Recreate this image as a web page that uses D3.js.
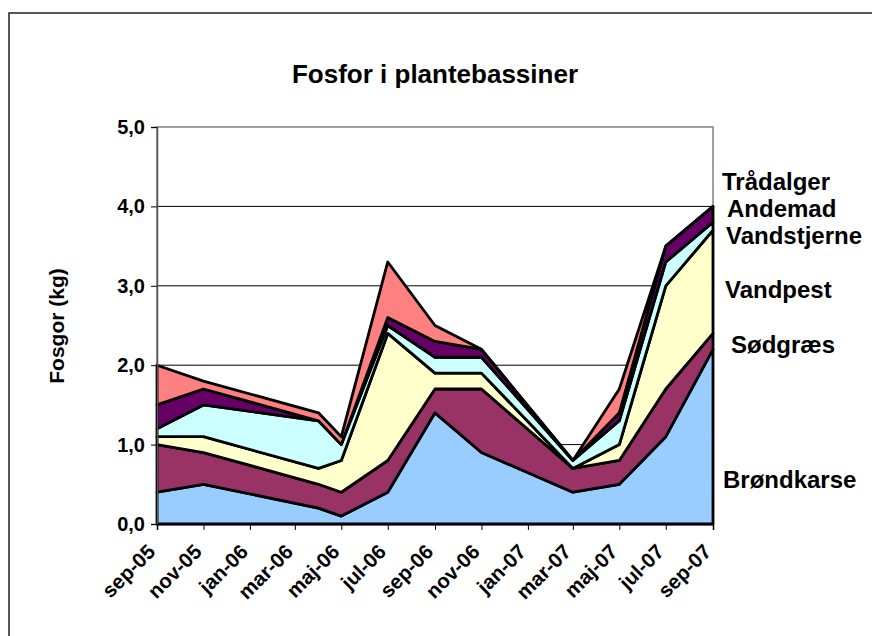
<!DOCTYPE html>
<html>
<head>
<meta charset="utf-8">
<script src="https://cdn.jsdelivr.net/npm/d3@7"></script>
<style>
  html, body { margin: 0; padding: 0; background: #fff; }
  svg { display: block; }
  text { font-family: "Liberation Sans", Arial, sans-serif; font-weight: bold; fill: #000; }
</style>
</head>
<body>
<svg id="chart" width="872" height="636"></svg>
<script>
// ---- DATA ----
const dates = ["2005-09", "2005-11", "2006-04", "2006-05", "2006-07", "2006-09",
               "2006-11", "2007-03", "2007-05", "2007-07", "2007-09"];
const seriesNames = ["Brøndkarse", "Sødgræs", "Vandpest", "Vandstjerne", "Andemad", "Trådalger"];
const brondkarse  = [0.4, 0.5, 0.2, 0.1, 0.4, 1.4, 0.9, 0.4, 0.5, 1.1, 2.2];
const sodgraes    = [0.6, 0.4, 0.3, 0.3, 0.4, 0.3, 0.8, 0.3, 0.3, 0.6, 0.2];
const vandpest    = [0.1, 0.2, 0.2, 0.4, 1.6, 0.2, 0.2, 0.0, 0.2, 1.3, 1.3];
const vandstjerne = [0.1, 0.4, 0.6, 0.2, 0.1, 0.2, 0.2, 0.1, 0.3, 0.3, 0.1];
const andemad     = [0.3, 0.2, 0.0, 0.0, 0.1, 0.2, 0.1, 0.0, 0.1, 0.2, 0.2];
const tradalger   = [0.5, 0.1, 0.1, 0.1, 0.7, 0.2, 0.0, 0.0, 0.3, 0.0, 0.0];
const yTicks = [0, 1, 2, 3, 4, 5];
const monthLabels = ["jan", "feb", "mar", "apr", "maj", "jun", "jul", "aug", "sep", "okt", "nov", "dec"];
const title = "Fosfor i plantebassiner";
const yTitle = "Fosgor (kg)";

// ---- STYLE / LAYOUT ----
const colors = ["#99CCFF", "#993366", "#FFFFCC", "#CCFFFF", "#660066", "#FF8080"];
const labelPos = [[723, 488], [731, 353], [725, 298], [726, 244], [727, 217], [722, 190]];
const plot = { left: 157, right: 713, top: 127, bottom: 524 };

const svg = d3.select("#chart");
const parse = d3.timeParse("%Y-%m");
const valuesBySeries = [brondkarse, sodgraes, vandpest, vandstjerne, andemad, tradalger];
const table = dates.map((d, i) => {
  const row = { date: parse(d) };
  seriesNames.forEach((n, k) => row[n] = valuesBySeries[k][i]);
  return row;
});

const x = d3.scaleTime()
  .domain([parse("2005-09"), parse("2007-09")])
  .range([plot.left, plot.right]);
const y = d3.scaleLinear().domain([0, 5]).range([plot.bottom, plot.top]);

// outer chart border
svg.append("rect").attr("x", 9).attr("y", 13).attr("width", 900).attr("height", 700)
  .attr("fill", "none").attr("stroke", "#222").attr("stroke-width", 1.5);

// plot area border (gray)
svg.append("rect").attr("x", plot.left).attr("y", plot.top)
  .attr("width", plot.right - plot.left).attr("height", plot.bottom - plot.top)
  .attr("fill", "none").attr("stroke", "#808080").attr("stroke-width", 1.5);

// gridlines
svg.append("g").selectAll("line").data(yTicks.filter(t => t > 0 && t < 5)).join("line")
  .attr("x1", plot.left).attr("x2", plot.right)
  .attr("y1", d => y(d)).attr("y2", d => y(d))
  .attr("stroke", "#000").attr("stroke-width", 1);

// stacked areas
const stack = d3.stack().keys(seriesNames);
const layers = stack(table);
const area = d3.area()
  .x(d => x(d.data.date))
  .y0(d => y(d[0]))
  .y1(d => y(d[1]));
svg.append("g").selectAll("path").data(layers).join("path")
  .attr("d", area)
  .attr("fill", (d, i) => colors[i])
  .attr("stroke", "#000").attr("stroke-width", 2.8)
  .attr("stroke-linejoin", "round");

// y axis
const yAxis = d3.axisLeft(y).tickValues(yTicks).tickSize(6).tickPadding(6)
  .tickFormat(d => d3.format(".1f")(d).replace(".", ","));
const yg = svg.append("g").attr("transform", `translate(${plot.left},0)`).call(yAxis);
yg.select(".domain").attr("stroke", "#555").attr("stroke-width", 1.5);
yg.selectAll(".tick line").attr("stroke", "#000");
yg.selectAll("text").style("font-size", "20px").attr("font-family", null).attr("fill", "#000");

// x axis
const xAxis = d3.axisBottom(x).ticks(d3.timeMonth.every(2)).tickSize(6).tickPadding(4)
  .tickFormat(d => monthLabels[d.getMonth()] + "-" + d3.timeFormat("%y")(d));
const xg = svg.append("g").attr("transform", `translate(0,${plot.bottom})`).call(xAxis);
xg.select(".domain").attr("stroke", "#000").attr("stroke-width", 1.5);
xg.selectAll(".tick line").attr("stroke", "#000");
xg.selectAll("text")
  .style("font-size", "20.5px").attr("font-family", null).attr("fill", "#000")
  .attr("text-anchor", "end")
  .attr("x", 0).attr("y", 0).attr("dy", null)
  .attr("transform", "translate(-1,29) rotate(-45)");

// titles
svg.append("text").attr("x", 435).attr("y", 83).attr("text-anchor", "middle")
  .style("font-size", "26px").text(title);
svg.append("text").attr("transform", "translate(64,326) rotate(-90)")
  .attr("text-anchor", "middle").style("font-size", "21px").text(yTitle);

// series labels
svg.append("g").selectAll("text").data(seriesNames).join("text")
  .attr("x", (d, i) => labelPos[i][0]).attr("y", (d, i) => labelPos[i][1])
  .style("font-size", "24px").text(d => d);
</script>
</body>
</html>
